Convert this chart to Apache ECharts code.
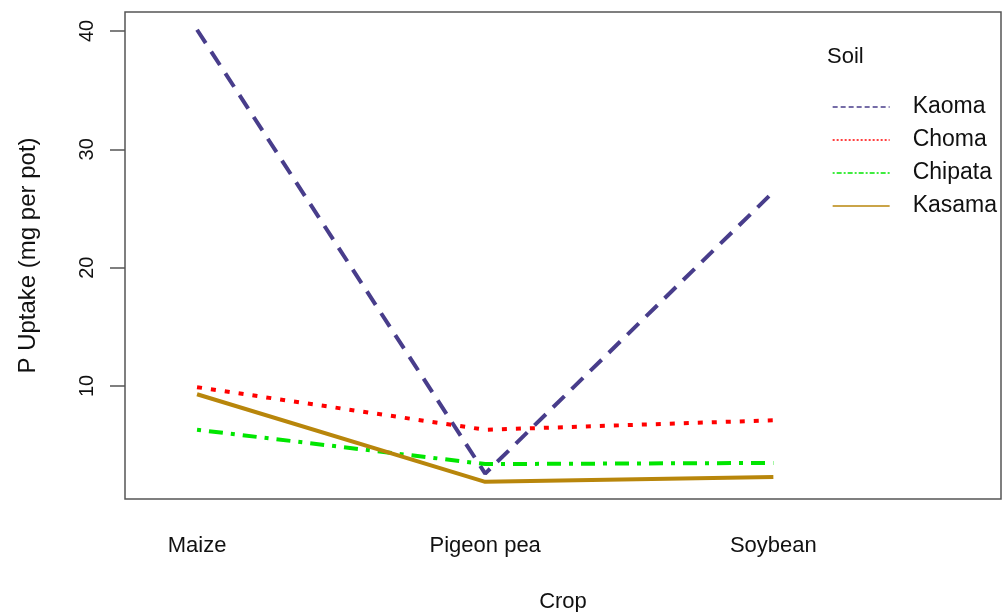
<!DOCTYPE html>
<html>
<head>
<meta charset="utf-8">
<script src="https://cdn.jsdelivr.net/npm/echarts@6/dist/echarts.min.js"></script>
<style>
html,body{margin:0;padding:0;background:#fff;}
#chart{width:1002px;height:612px;}
</style>
</head>
<body>
<div id="chart"></div>
<script>
const crops = ['Maize', 'Pigeon pea', 'Soybean'];
const soils = ['Kaoma', 'Choma', 'Chipata', 'Kasama'];
const kaoma = [40.1, 2.6, 26.4];
const choma = [9.9, 6.3, 7.1];
const chipata = [6.3, 3.4, 3.5];
const kasama = [9.3, 1.9, 2.3];
const yTicks = [10, 20, 30, 40];

const seriesValues = [kaoma, choma, chipata, kasama];
const colors = ['#483D8B', '#FF0000', '#00E600', '#B8860B'];
const dashes = [[16, 10], [5, 9], [4, 8, 14, 8], 'solid'];
const legendDashes = [[5, 3], [2, 2], [2, 2, 5, 2], 'solid'];

const chart = echarts.init(document.getElementById('chart'), null, {renderer: 'canvas'});
const font = 'Liberation Sans, Arial, sans-serif';

const option = {
  animation: false,
  backgroundColor: '#fff',
  grid: {
    left: 125, top: 12, right: 1, bottom: 113,
    outerBoundsMode: 'none', containLabel: false,
    show: true, borderColor: '#555', borderWidth: 1.5, backgroundColor: 'transparent'
  },
  title: {
    text: 'Soil', left: 822, top: 41,
    textStyle: {fontFamily: font, fontSize: 22, fontWeight: 'normal', color: '#111'}
  },
  legend: {
    orient: 'vertical', left: 827, top: 90,
    itemWidth: 57, itemHeight: 12, itemGap: 9,
    data: soils.map((s, i) => ({
      name: s,
      itemStyle: {opacity: 0},
      lineStyle: {width: 1.3, type: legendDashes[i], color: colors[i]}
    })),
    textStyle: {fontFamily: font, fontSize: 23, color: '#111', lineHeight: 24, padding: [0, 0, 0, 18]}
  },
  xAxis: {
    type: 'value', min: 0.75, max: 3.79,
    axisLine: {show: false}, axisTick: {show: false}, splitLine: {show: false},
    axisLabel: {
      customValues: [1, 2, 3],
      formatter: v => crops[Math.round(v) - 1] || '',
      fontFamily: font, fontSize: 22, color: '#111', margin: 36
    },
    name: 'Crop', nameLocation: 'middle', nameGap: 92,
    nameTextStyle: {fontFamily: font, fontSize: 22, color: '#111'}
  },
  yAxis: {
    type: 'value', min: 0.45, max: 41.6,
    axisLine: {show: false},
    splitLine: {show: false},
    axisTick: {show: true, customValues: yTicks, length: 15, inside: false, lineStyle: {color: '#555', width: 1.5}},
    axisLabel: {
      customValues: yTicks, rotate: 90, margin: 28,
      fontFamily: font, fontSize: 20, color: '#111'
    },
    name: 'P Uptake (mg per pot)', nameLocation: 'middle', nameGap: 85, nameRotate: 90,
    nameTextStyle: {fontFamily: font, fontSize: 24, color: '#111'}
  },
  series: soils.map((s, i) => ({
    name: s, type: 'line', symbol: 'none', color: colors[i],
    data: seriesValues[i].map((v, j) => [j + 1, v]),
    lineStyle: {width: 4, type: dashes[i], color: colors[i], cap: 'butt'}
  }))
};
chart.setOption(option);
</script>
</body>
</html>
